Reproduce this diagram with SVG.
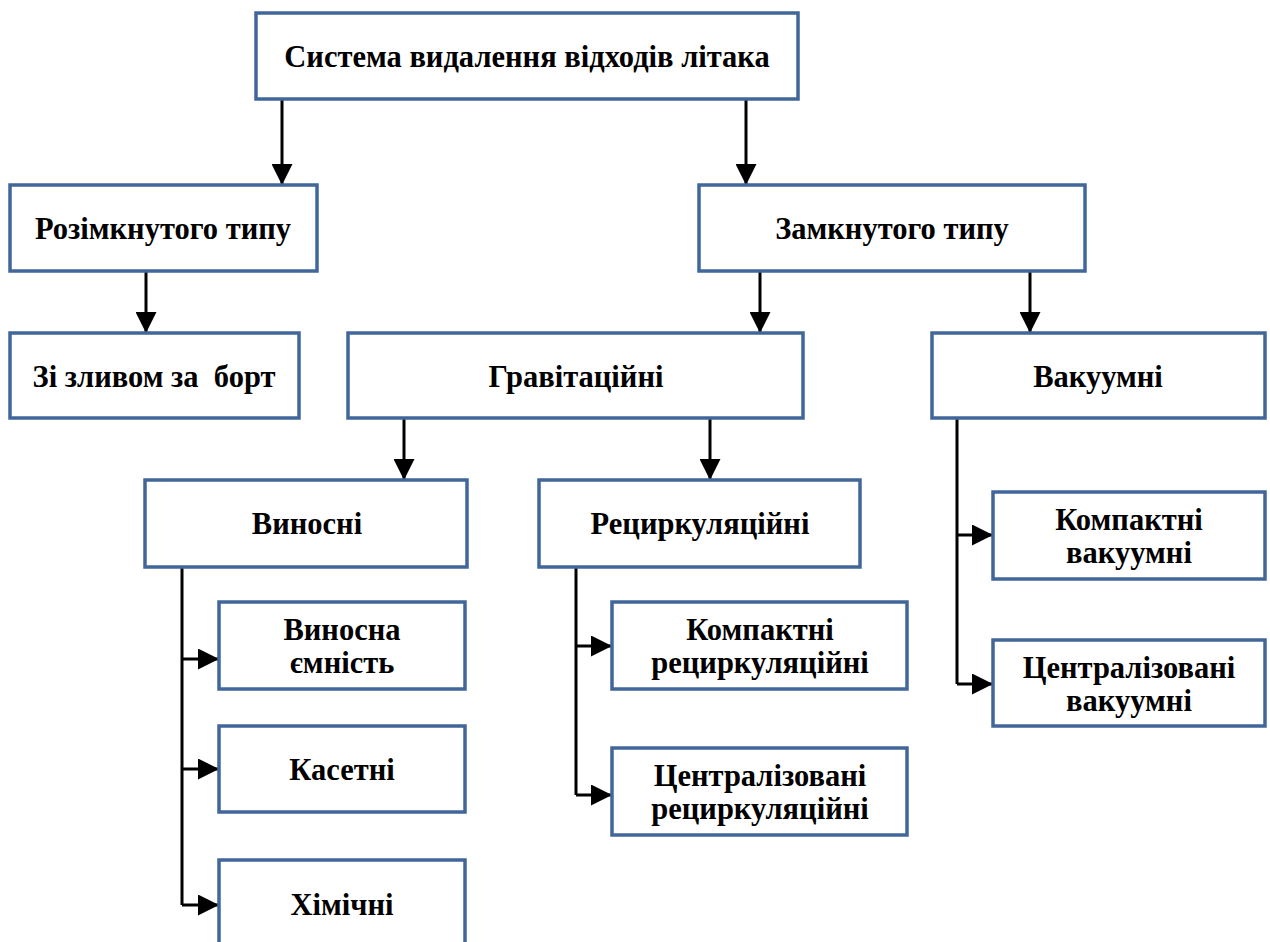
<svg xmlns="http://www.w3.org/2000/svg" width="1270" height="942" viewBox="0 0 1270 942">
  <style>
    .box { fill: #ffffff; stroke: #41679a; stroke-width: 3.5; }
    .lbl { font-family: 'Liberation Serif', 'DejaVu Serif', serif; font-weight: 700; font-size: 30.5px; fill: #000000; text-anchor: middle; }
    .wire { fill: none; stroke: #000000; stroke-width: 3; }
  </style>
  <defs>
    <marker id="arrow" viewBox="0 0 10 10" refX="10" refY="5" markerWidth="7" markerHeight="7" markerUnits="strokeWidth" orient="auto">
      <path d="M0,0 L10,5 L0,10 Z" fill="#000000"/>
    </marker>
  </defs>

  <rect width="1270" height="942" fill="#ffffff"/>

  <g id="connectors">
    <path class="wire" d="M282,99 V185" marker-end="url(#arrow)"/>
    <path class="wire" d="M746,99 V185" marker-end="url(#arrow)"/>
    <path class="wire" d="M146,271 V333" marker-end="url(#arrow)"/>
    <path class="wire" d="M760,271 V333" marker-end="url(#arrow)"/>
    <path class="wire" d="M1030,271 V333" marker-end="url(#arrow)"/>
    <path class="wire" d="M404,418 V480" marker-end="url(#arrow)"/>
    <path class="wire" d="M710,418 V480" marker-end="url(#arrow)"/>
    <path class="wire" d="M182,567 V905"/>
    <path class="wire" d="M182,659 H219" marker-end="url(#arrow)"/>
    <path class="wire" d="M182,769 H219" marker-end="url(#arrow)"/>
    <path class="wire" d="M182,905 H219" marker-end="url(#arrow)"/>
    <path class="wire" d="M576,567 V795"/>
    <path class="wire" d="M576,646 H612" marker-end="url(#arrow)"/>
    <path class="wire" d="M576,795 H612" marker-end="url(#arrow)"/>
    <path class="wire" d="M957,418 V684"/>
    <path class="wire" d="M957,535 H993" marker-end="url(#arrow)"/>
    <path class="wire" d="M957,684 H993" marker-end="url(#arrow)"/>
  </g>

  <g id="root">
    <rect class="box" x="256" y="13" width="542" height="86"/>
    <text class="lbl" x="527" y="67">Система видалення відходів літака</text>
  </g>
  <g id="open-type">
    <rect class="box" x="10" y="185" width="307" height="86"/>
    <text class="lbl" x="163" y="239">Розімкнутого типу</text>
  </g>
  <g id="closed-type">
    <rect class="box" x="699" y="185" width="386" height="86"/>
    <text class="lbl" x="892" y="239">Замкнутого типу</text>
  </g>
  <g id="overboard">
    <rect class="box" x="10" y="333" width="289" height="85"/>
    <text class="lbl" x="154" y="387" xml:space="preserve">Зі зливом за  борт</text>
  </g>
  <g id="gravity">
    <rect class="box" x="348" y="333" width="455" height="85"/>
    <text class="lbl" x="576" y="387">Гравітаційні</text>
  </g>
  <g id="vacuum">
    <rect class="box" x="932" y="333" width="333" height="85"/>
    <text class="lbl" x="1098" y="387">Вакуумні</text>
  </g>
  <g id="removable">
    <rect class="box" x="145" y="480" width="322" height="87"/>
    <text class="lbl" x="307" y="534">Виносні</text>
  </g>
  <g id="recirculating">
    <rect class="box" x="539" y="480" width="321" height="87"/>
    <text class="lbl" x="700" y="534">Рециркуляційні</text>
  </g>
  <g id="removable-tank">
    <rect class="box" x="219" y="602" width="246" height="87"/>
    <text class="lbl" x="342" y="640">Виносна</text>
    <text class="lbl" x="342" y="673">ємність</text>
  </g>
  <g id="cassette">
    <rect class="box" x="219" y="726" width="246" height="86"/>
    <text class="lbl" x="342" y="780">Касетні</text>
  </g>
  <g id="chemical">
    <rect class="box" x="219" y="860" width="246" height="90"/>
    <text class="lbl" x="342" y="915">Хімічні</text>
  </g>
  <g id="compact-recirc">
    <rect class="box" x="612" y="602" width="295" height="87"/>
    <text class="lbl" x="760" y="640">Компактні</text>
    <text class="lbl" x="760" y="673">рециркуляційні</text>
  </g>
  <g id="central-recirc">
    <rect class="box" x="612" y="748" width="295" height="87"/>
    <text class="lbl" x="760" y="786">Централізовані</text>
    <text class="lbl" x="760" y="819">рециркуляційні</text>
  </g>
  <g id="compact-vacuum">
    <rect class="box" x="993" y="492" width="272" height="87"/>
    <text class="lbl" x="1129" y="530">Компактні</text>
    <text class="lbl" x="1129" y="563">вакуумні</text>
  </g>
  <g id="central-vacuum">
    <rect class="box" x="993" y="640" width="272" height="86"/>
    <text class="lbl" x="1129" y="678">Централізовані</text>
    <text class="lbl" x="1129" y="711">вакуумні</text>
  </g>
</svg>
